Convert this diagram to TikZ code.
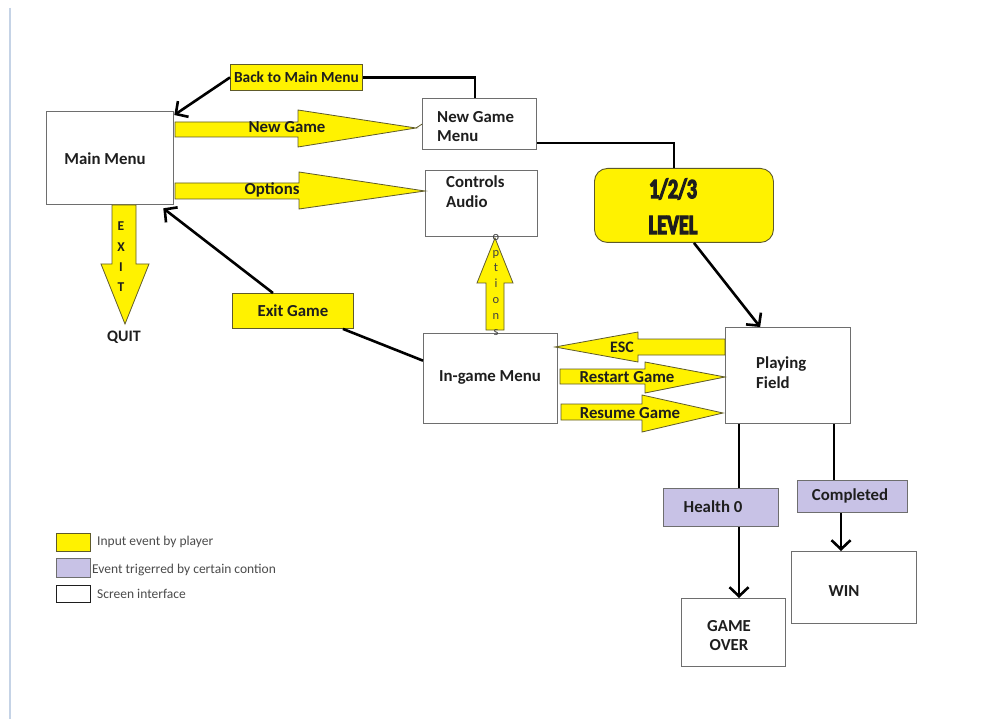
\documentclass[tikz,border=0pt]{standalone}
\usepackage{fontspec}
\setmainfont{Carlito}
\newfontfamily\levfont[FakeBold=4,FakeStretch=0.72]{Carlito Bold}
\usetikzlibrary{arrows.meta,calc}
\definecolor{yel}{HTML}{FFF200}
\definecolor{lav}{HTML}{C8C2E6}
\definecolor{bord}{HTML}{6E6E6E}
\definecolor{edge}{HTML}{5E5A2A}
\definecolor{side}{HTML}{C5D3E6}
\definecolor{ink}{HTML}{1E1E1E}
\begin{document}
\begin{tikzpicture}[x=1pt,y=-1pt,
  scr/.style={draw=bord, line width=1.3pt, fill=white, anchor=north west, inner sep=0pt},
  evt/.style={scr, fill=yel, draw=edge, line width=0.9pt},
  cond/.style={scr, fill=lav, draw=bord, line width=1.1pt},
  lbl/.style={font=\bfseries\fontsize{16.8}{19}\selectfont, text=ink, inner sep=0pt},
  small/.style={font=\fontsize{13.5}{15}\selectfont, text=ink!80, inner sep=0pt},
  conn/.style={line width=2.6pt, black},
  tipc/.style={conn, -{Straight Barb[length=9pt,width=19pt]}},
  big/.style={fill=yel, draw=edge, line width=0.8pt, line join=miter},
]
\useasboundingbox (0,0) rectangle (982,719);
\fill[white] (0,0) rectangle (982,719);
\draw[side, line width=2pt] (10,8) -- (10,719);

% screen boxes
\node[scr, minimum width=127pt, minimum height=93pt] (main) at (46,111) {};
\node[scr, minimum width=114pt, minimum height=51pt] (ngm) at (422,98) {};
\node[scr, minimum width=112pt, minimum height=66pt] (ctrl) at (425,170) {};
\node[scr, minimum width=134pt, minimum height=90pt] (igm) at (423,333) {};
\node[scr, minimum width=125pt, minimum height=96pt] (pf) at (725,327) {};
\node[scr, minimum width=104pt, minimum height=68pt] (go) at (681,598) {};
\node[scr, minimum width=125pt, minimum height=72pt] (win) at (791,551) {};

% event boxes
\node[evt, minimum width=132pt, minimum height=26pt, lbl, font=\bfseries\fontsize{15.4}{18}\selectfont] (back) at (230,64) {Back to Main Menu};
\node[evt, minimum width=121pt, minimum height=35pt, lbl] (exitg) at (232,293) {Exit Game};
\node[evt, minimum width=179pt, minimum height=74pt, rounded corners=13pt, draw=edge] (level) at (594,168) {};
\node[cond, minimum width=115pt, minimum height=38pt] (health) at (663,488) {};
\node[cond, minimum width=110pt, minimum height=32pt] (compl) at (797,480) {};

% texts in boxes
\node[lbl] (tmain) at (105,159) {Main Menu};
\node[lbl, anchor=west, align=left] (tngm) at (437,126.5) {New Game\\Menu};
\node[lbl, anchor=west, align=left, font=\bfseries\fontsize{16.8}{20}\selectfont] (tctrl) at (446,192) {Controls\\Audio};
\node[lbl] (tigm) at (490,377) {In-game Menu};
\node[lbl, anchor=west, align=left, font=\bfseries\fontsize{16.8}{20}\selectfont] (tpf) at (756,373) {Playing\\Field};
\node[inner sep=0pt, text=ink, font=\levfont\fontsize{28}{30}\selectfont] (tlev1) at (673,189) {1/2/3};
\node[inner sep=0pt, text=ink, font=\levfont\fontsize{28}{30}\selectfont] (tlev2) at (673,225) {LEVEL};
\node[lbl] (thealth) at (713,507) {Health 0};
\node[lbl] (tcompl) at (850,496) {Completed};
\node[lbl, align=center, font=\bfseries\fontsize{16.8}{19}\selectfont] (tgo) at (729,635.5) {GAME\\OVER};
\node[lbl] (twin) at (844,591) {WIN};

% connectors
\draw[conn] (back.east) -| ($(ngm.north west)+(53,0)$);
\draw[tipc] (back.west) -- ($(main.north east)+(0,4)$);
\draw[conn] ($(ngm.east)+(0,19)$) -| ($(level.north)+(-10,0)$);
\draw[tipc] ($(level.south)+(10,0)$) -- ($(pf.north)+(-28,0)$);
\draw[conn] ($(igm.west)+(0,-18)$) -- ($(exitg.south east)+(-11,0)$);
\draw[tipc] ($(exitg.north)+(-20,0)$) -- ($(main.south east)+(-11,3)$);
\coordinate (p1) at ($(pf.south west)+(14,0)$);
\coordinate (p2) at ($(pf.south west)+(109,0)$);
\coordinate (p3) at ($(compl.south west)+(44,0)$);
\draw[conn] (p1) -- (p1 |- health.north);
\draw[conn] (p2) -- (p2 |- compl.north);
\draw[tipc] (p1 |- health.south) -- (p1 |- go.north);
\draw[tipc] (p3) -- (p3 |- win.north);

% big input arrows
\draw[big] (175,122) -- (298,122) -- (298,110) -- (416,128) -- (298,147) -- (298,137) -- (175,137) -- cycle;
\draw[edge, line width=0.8pt] (416,128) -- (ngm.west);
\node[lbl] (tnew) at (287,127) {New Game};
\draw[big] (175,183) -- (299,183) -- (299,172) -- (425,191) -- (299,209) -- (299,199) -- (175,199) -- cycle;
\node[lbl] (topt) at (272,190) {Options};
\draw[big] (112,205) -- (136,205) -- (136,264) -- (149,264) -- (125,324) -- (101,264) -- (112,264) -- cycle;
\node[lbl, font=\bfseries\fontsize{13.5}{14}\selectfont] (te) at (121,226) {E};
\node[lbl, font=\bfseries\fontsize{13.5}{14}\selectfont] (tx) at (121,247) {X};
\node[lbl, font=\bfseries\fontsize{13.5}{14}\selectfont] (ti) at (121,267) {I};
\node[lbl, font=\bfseries\fontsize{13.5}{14}\selectfont] (tt) at (121,287) {T};
\node[lbl, font=\bfseries\fontsize{16}{18}\selectfont] (tquit) at (124,337) {QUIT};
\draw[big] (486,330) -- (486,283) -- (477,283) -- (495,238) -- (513,283) -- (504,283) -- (504,330) -- cycle;
\node[inner sep=0pt, text=ink!85, font=\fontsize{12.5}{15.8}\selectfont, align=center, anchor=north] (topts) at (496,234) {o\\p\\t\\i\\o\\n\\s};
\draw[big] (725,339) -- (638,339) -- (638,332) -- (555,347) -- (638,362) -- (638,355) -- (725,355) -- cycle;
\node[lbl, font=\bfseries\fontsize{16}{18}\selectfont] (tesc) at (622,347) {ESC};
\draw[big] (560,369) -- (645,369) -- (645,362) -- (725,377) -- (645,393) -- (645,384) -- (560,384) -- cycle;
\node[lbl] (trest) at (627,377) {Restart Game};
\draw[big] (561,404) -- (642,404) -- (642,395) -- (723,413) -- (642,432) -- (642,420) -- (561,420) -- cycle;
\node[lbl] (tres) at (630,413) {Resume Game};

% legend
\node[evt, minimum width=34pt, minimum height=18pt] (lg1) at (56,533) {};
\node[cond, minimum width=34pt, minimum height=19pt, line width=0.8pt] (lg2) at (56,558) {};
\node[scr, minimum width=34pt, minimum height=17pt, line width=0.9pt, draw=ink] (lg3) at (56,585) {};
\node[small, anchor=west] (tl1) at (97,542) {Input event by player};
\node[small, anchor=west] (tl2) at (92,570) {Event trigerred by certain contion};
\node[small, anchor=west] (tl3) at (97,594) {Screen interface};
\end{tikzpicture}
\end{document}
